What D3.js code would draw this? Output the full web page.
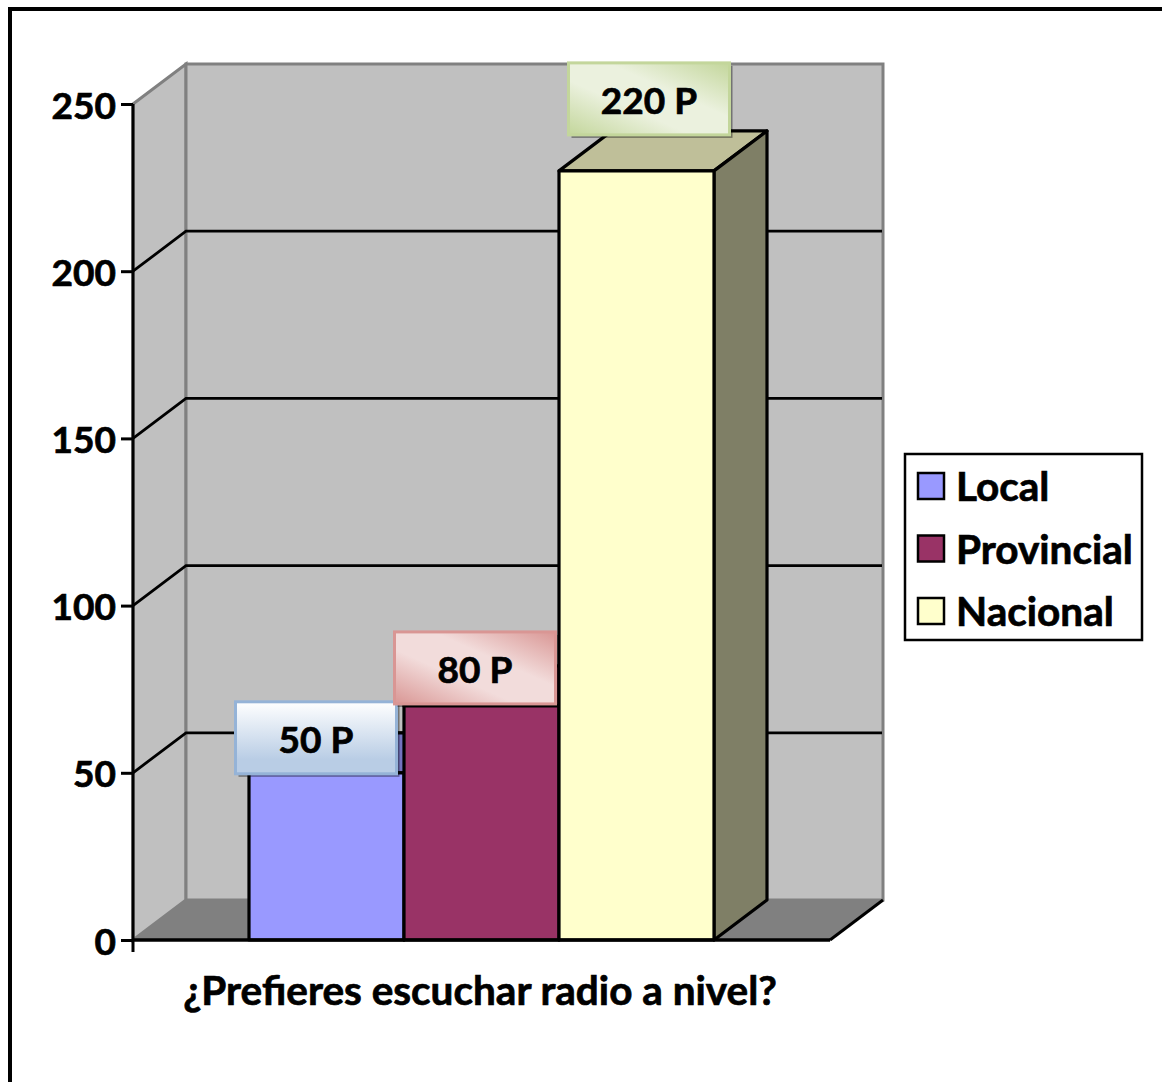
<!DOCTYPE html>
<html>
<head>
<meta charset="utf-8">
<script src="https://cdn.jsdelivr.net/npm/d3@7"></script>
<style>
    html, body { margin: 0; padding: 0; background: #fff; overflow: hidden; }
    svg { display: block; }
    text { font-family: Lato, sans-serif; font-weight: 700; fill: #000; stroke: #000; stroke-width: 0.7px; }
</style>
</head>
<body>
<svg id="chart" width="1162" height="1082"></svg>
<script>
const categories = ["Local", "Provincial", "Nacional"];
const values = [50, 70, 230];
const valueLabels = ["50 P", "80 P", "220 P"];
const yTicks = [0, 50, 100, 150, 200, 250];
const xTitle = "¿Prefieres escuchar radio a nivel?";

const frontColors = ["#9999FF", "#993366", "#FFFFCC"];
const topColors = ["#7373BF", "#732648", "#BFBF99"];
const sideColors = ["#666699", "#5C1F3D", "#7F7F66"];

// depth of the fake 3D box
const depthX = 53;
const depthY = -40;
const digitSize = 37;
const wordSize = 40.5;

const svg = d3.select("#chart");

const y = d3.scaleLinear().domain([0, 250]).range([940, 104]);
const xBars = d3.scaleBand().domain(categories).range([249, 714]);
const leftX = 133;
const rightX = 830;

// gradients for the label boxes
const defs = svg.append("defs");
function diagonalGradient(id, dark, light) {
    const g = defs.append("linearGradient").attr("id", id)
        .attr("x1", 1).attr("y1", 0).attr("x2", 0).attr("y2", 1);
    g.append("stop").attr("offset", 0).attr("stop-color", dark);
    g.append("stop").attr("offset", 0.38).attr("stop-color", light);
    g.append("stop").attr("offset", 0.62).attr("stop-color", light);
    g.append("stop").attr("offset", 1).attr("stop-color", dark);
}
const blue = defs.append("linearGradient").attr("id", "boxLocal")
    .attr("x1", 0).attr("y1", 0).attr("x2", 0).attr("y2", 1);
blue.append("stop").attr("offset", 0).attr("stop-color", "#FFFFFF");
blue.append("stop").attr("offset", 0.8).attr("stop-color", "#B9CDE5");
blue.append("stop").attr("offset", 1).attr("stop-color", "#B9CDE5");
diagonalGradient("boxProvincial", "#D99694", "#F2DCDB");
diagonalGradient("boxNacional", "#C3D69B", "#EBF1DE");

// outer frame, only left and top fall inside the picture
svg.append("path")
    .attr("d", "M10,1082V9H1162")
    .attr("fill", "none").attr("stroke", "#000").attr("stroke-width", 4);

// walls
const wallTop = y(250) + depthY;
const wallBottom = y(0) + depthY;
svg.append("path")
    .attr("d", `M${leftX},${y(250)}L${leftX + depthX},${wallTop}V${wallBottom}L${leftX},${y(0)}Z`)
    .attr("fill", "#C0C0C0").attr("stroke", "#808080").attr("stroke-width", 3);
svg.append("rect")
    .attr("x", leftX + depthX).attr("y", wallTop)
    .attr("width", rightX - leftX).attr("height", wallBottom - wallTop)
    .attr("fill", "#C0C0C0").attr("stroke", "#808080").attr("stroke-width", 3);
svg.append("path")
    .attr("d", `M${leftX},${y(0)}L${leftX + depthX},${wallBottom}H${rightX + depthX}L${rightX},${y(0)}Z`)
    .attr("fill", "#808080");
svg.append("path")
    .attr("d", `M${rightX},${y(0)}L${rightX + depthX},${wallBottom}`)
    .attr("stroke", "#000").attr("stroke-width", 3);

// gridlines
for (const t of yTicks.slice(1, -1)) {
    svg.append("path")
        .attr("d", `M${leftX},${y(t)}L${leftX + depthX},${y(t) + depthY}H${rightX + depthX - 1}`)
        .attr("fill", "none").attr("stroke", "#000").attr("stroke-width", 2.8);
}

// bars, back to front by drawing order
categories.forEach(function (c, i) {
    const x0 = xBars(c);
    const w = xBars.bandwidth();
    const top = y(values[i]);
    const base = y(0);
    const bar = svg.append("g").attr("stroke", "#000").attr("stroke-width", 3.2).attr("stroke-linejoin", "round");
    bar.append("path")
        .attr("d", `M${x0},${top}l${depthX},${depthY}h${w}l${-depthX},${-depthY}Z`)
        .attr("fill", topColors[i]);
    bar.append("path")
        .attr("d", `M${x0 + w},${top}l${depthX},${depthY}V${base + depthY}L${x0 + w},${base}Z`)
        .attr("fill", sideColors[i]);
    bar.append("rect")
        .attr("x", x0).attr("y", top)
        .attr("width", w).attr("height", base - top)
        .attr("fill", frontColors[i]);
});

// axes
const yAxis = d3.axisLeft(y).tickValues(yTicks).tickSize(12).tickPadding(5).tickFormat(d3.format("d"));
const yG = svg.append("g").attr("transform", `translate(${leftX},0)`).call(yAxis);
yG.select(".domain").remove();
yG.selectAll(".tick line").attr("stroke", "#000").attr("stroke-width", 3);
yG.selectAll(".tick text")
    .attr("dy", "0.38em")
    .style("font-size", digitSize + "px")
    .style("font-family", "Lato, sans-serif");
svg.append("line")
    .attr("x1", leftX).attr("x2", leftX).attr("y1", y(250)).attr("y2", 952)
    .attr("stroke", "#000").attr("stroke-width", 3);
svg.append("line")
    .attr("x1", leftX).attr("x2", rightX).attr("y1", y(0)).attr("y2", y(0))
    .attr("stroke", "#000").attr("stroke-width", 3.5);

svg.append("text")
    .attr("x", 480).attr("y", 1005)
    .attr("text-anchor", "middle")
    .style("font-size", wordSize + "px")
    .text(xTitle);

// value label boxes, hand placed in the original
const boxW = 161;
const boxH = 72;
const boxDx = [-91, -87, -68];
const boxDy = [-71, -74, -108];
const boxStroke = ["#95B3D7", "#D99694", "#C3D69B"];
const boxFill = ["boxLocal", "boxProvincial", "boxNacional"];
categories.forEach(function (c, i) {
    const bx = xBars(c) + xBars.bandwidth() / 2 + boxDx[i];
    const by = y(values[i]) + boxDy[i];
    svg.append("rect")
        .attr("x", bx + 3).attr("y", by + 3)
        .attr("width", boxW).attr("height", boxH)
        .attr("fill", "#000").attr("fill-opacity", 0.4);
    svg.append("rect")
        .attr("x", bx).attr("y", by)
        .attr("width", boxW).attr("height", boxH)
        .attr("fill", `url(#${boxFill[i]})`)
        .attr("stroke", boxStroke[i]).attr("stroke-width", 3);
    svg.append("text")
        .attr("x", bx + boxW / 2).attr("y", by + boxH / 2 + 15)
        .attr("text-anchor", "middle")
        .style("font-size", digitSize + "px")
        .text(valueLabels[i]);
});

// legend
svg.append("rect")
    .attr("x", 905).attr("y", 454)
    .attr("width", 237).attr("height", 186)
    .attr("fill", "#fff").attr("stroke", "#000").attr("stroke-width", 2.5);
const legendY = d3.scalePoint().domain(categories).range([487, 612]);
categories.forEach(function (c, i) {
    svg.append("rect")
        .attr("x", 918).attr("y", legendY(c) - 14)
        .attr("width", 26).attr("height", 26)
        .attr("fill", frontColors[i]).attr("stroke", "#000").attr("stroke-width", 2.5);
    svg.append("text")
        .attr("x", 956).attr("y", legendY(c) + 14)
        .style("font-size", wordSize + "px")
        .text(c);
});
</script>
</body>
</html>
